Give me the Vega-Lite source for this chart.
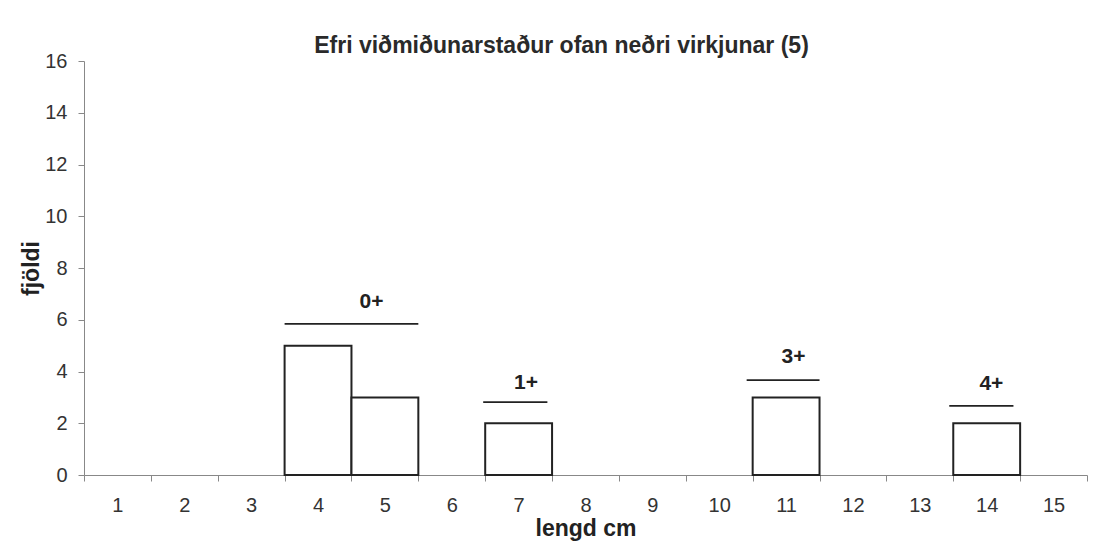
{
  "$schema": "https://vega.github.io/schema/vega-lite/v6.json",
  "autosize": {"type": "none"},
  "width": 1003,
  "height": 414,
  "padding": {"left": 84, "top": 61, "right": 28, "bottom": 81},
  "background": "white",
  "config": {
    "font": "Liberation Sans",
    "view": {"stroke": null},
    "axis": {"domainColor": "#888", "tickColor": "#888", "labelColor": "#333", "titleColor": "#222", "grid": false}
  },
  "title": {
    "text": "Efri viðmiðunarstaður ofan neðri virkjunar (5)",
    "fontSize": 23,
    "fontWeight": "bold",
    "color": "#2a2a2a",
    "anchor": "middle",
    "dx": -24,
    "offset": -7
  },
  "datasets": {
    "bars": [
      {"lengd": 4, "fjoldi": 5},
      {"lengd": 5, "fjoldi": 3},
      {"lengd": 7, "fjoldi": 2},
      {"lengd": 11, "fjoldi": 3},
      {"lengd": 14, "fjoldi": 2}
    ],
    "groups": [
      {"aldur": "0+", "start": 3.5, "end": 5.5, "line": 5.84, "labelx": 4.8, "labely": 6.7},
      {"aldur": "1+", "start": 6.47, "end": 7.43, "line": 2.82, "labelx": 7.11, "labely": 3.57},
      {"aldur": "3+", "start": 10.41, "end": 11.5, "line": 3.67, "labelx": 11.11, "labely": 4.56},
      {"aldur": "4+", "start": 13.44, "end": 14.4, "line": 2.67, "labelx": 14.07, "labely": 3.52}
    ]
  },
  "layer": [
    {
      "data": {"name": "bars"},
      "mark": {"type": "bar", "fill": "white", "stroke": "#222", "strokeWidth": 2},
      "encoding": {
        "x": {
          "field": "lengd",
          "type": "ordinal",
          "scale": {"domain": [1,2,3,4,5,6,7,8,9,10,11,12,13,14,15], "paddingInner": 0, "paddingOuter": 0},
          "axis": {"title": "lengd cm", "labelAngle": 0, "tickBand": "extent", "tickSize": 6, "labelFontSize": 20, "labelPadding": 14, "titleFontSize": 23, "titleFontWeight": "bold", "titlePadding": 2}
        },
        "y": {
          "field": "fjoldi",
          "type": "quantitative",
          "scale": {"domain": [0, 16], "nice": false},
          "axis": {"title": "fjöldi", "values": [0,2,4,6,8,10,12,14,16], "tickSize": 6, "labelPadding": 11, "labelFontSize": 20, "titleFontSize": 23, "titleFontWeight": "bold", "titlePadding": 1}
        }
      }
    },
    {
      "data": {"name": "groups"},
      "mark": {"type": "rule", "stroke": "#222", "strokeWidth": 1.8},
      "encoding": {
        "x": {"field": "start", "type": "quantitative", "scale": {"domain": [0.5, 15.5], "nice": false, "zero": false}, "axis": null},
        "x2": {"field": "end"},
        "y": {"field": "line", "type": "quantitative"}
      }
    },
    {
      "data": {"name": "groups"},
      "mark": {"type": "text", "fontSize": 21, "fontWeight": "bold", "color": "#222", "baseline": "middle", "align": "center"},
      "encoding": {
        "x": {"field": "labelx", "type": "quantitative", "scale": {"domain": [0.5, 15.5], "nice": false, "zero": false}, "axis": null},
        "y": {"field": "labely", "type": "quantitative"},
        "text": {"field": "aldur"}
      }
    }
  ],
  "resolve": {"scale": {"x": "independent"}}
}
